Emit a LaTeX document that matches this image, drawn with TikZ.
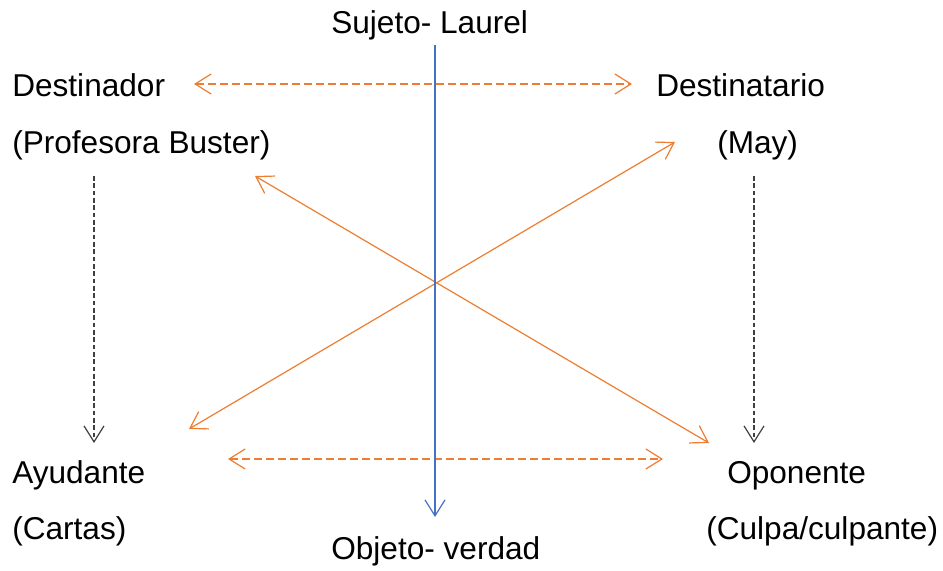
\documentclass[tikz,border=0pt]{standalone}
\usepackage{fontspec}
\setmainfont{Liberation Sans}
\usetikzlibrary{arrows.meta}
\definecolor{naranja}{HTML}{ED7D31}
\definecolor{azul}{HTML}{4472C4}
\definecolor{gris}{HTML}{404040}
\begin{document}
\begin{tikzpicture}[
            x=0.75pt, y=-0.75pt,
            >={Straight Barb[length=12pt,width=15pt]},
            actante/.style={inner sep=0pt, anchor=base west, font=\fontsize{23.7}{28}\selectfont},
            eje/.style={draw=naranja, line width=0.9pt, <->},
            relacion/.style={draw=naranja, line width=0.9pt, dash pattern=on 6pt off 3pt, <->},
            influye/.style={draw=gris, line width=0.9pt, dash pattern=on 3.5pt off 2pt, ->}
        ]
        \useasboundingbox (0,0) rectangle (943,571);

        \node[actante] (sujeto) at (331,33) {Sujeto- Laurel};
        \node[actante] (destinador) at (12,96) {Destinador};
        \node[actante] (profesora) at (12,153) {(Profesora Buster)};
        \node[actante] (destinatario) at (656,96) {Destinatario};
        \node[actante] (may) at (717,153) {(May)};
        \node[actante] (ayudante) at (12,483) {Ayudante};
        \node[actante] (cartas) at (12,539) {(Cartas)};
        \node[actante] (oponente) at (727,483) {Oponente};
        \node[actante] (culpa) at (706,539) {(Culpa/culpante)};
        \node[actante] (objeto) at (331,559) {Objeto- verdad};

        % extremos de las flechas
        \coordinate (s) at (435,45);
        \coordinate (o) at (435,517);
        \coordinate (d1) at (194,84);
        \coordinate (d2) at (632,84);
        \coordinate (a1) at (228,459);
        \coordinate (a2) at (663,459);
        \coordinate (pb) at (255,176);
        \coordinate (cp) at (709,443);
        \coordinate (ca) at (189,429);
        \coordinate (my) at (675,142);
        \coordinate (i1) at (94,176);
        \coordinate (i2) at (94,443);
        \coordinate (i3) at (754,176);
        \coordinate (i4) at (754,443);

        \draw[relacion] (d1) -- (d2);
        \draw[relacion] (a1) -- (a2);
        \draw[eje] (pb) -- (cp);
        \draw[eje] (ca) -- (my);
        \draw[influye] (i1) -- (i2);
        \draw[influye] (i3) -- (i4);
        \draw[draw=azul, line width=0.9pt, ->] (s) -- (o);
    \end{tikzpicture}
\end{document}
